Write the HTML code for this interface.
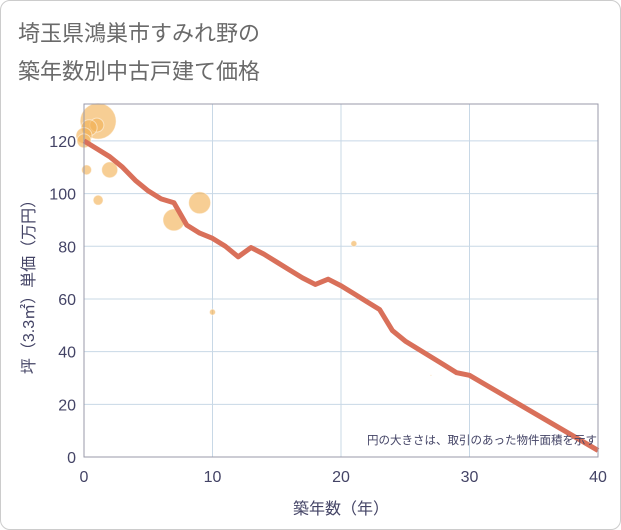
<!DOCTYPE html>
<html><head><meta charset="utf-8"><style>
body{margin:0;background:#fff;font-family:"Liberation Sans","Noto Sans CJK JP",sans-serif}
#wrap{position:relative;width:619px;height:528px;border:1px solid #ccc;border-radius:10px;overflow:hidden;background:#fff}
</style></head><body>
<div id="wrap">
<svg id="chart" width="621" height="530">
<text x="17" y="40" font-size="22" fill="#6a6a6a">埼玉県鴻巣市すみれ野の</text>
<text x="17" y="78" font-size="22" fill="#6a6a6a">築年数別中古戸建て価格</text>
<g id="grid"></g><g id="bubbles"></g><g id="line"></g><g id="axes"></g>
<text x="596" y="443" font-size="11.5" fill="#446" text-anchor="end">円の大きさは、取引のあった物件面積を示す</text>
<text x="340" y="513" font-size="16" fill="#446" text-anchor="middle">築年数（年）</text>
<text transform="translate(33,282) rotate(-90)" font-size="16" fill="#446" text-anchor="middle">坪（3.3㎡）単価（万円）</text>
</svg></div>
<script>
const xTicks=[0,10,20,30,40];
const yTicks=[0,20,40,60,80,100,120];
const lineYears=[0,1,2,3,4,5,6,7,8,9,10,11,12,13,14,15,16,17,18,19,20,21,22,23,24,25,26,27,28,29,30,40];
const linePrices=[120,117,114,110,105,101,98,96.5,88,85,83,80,76,79.5,77,74,71,68,65.5,67.5,65,62,59,56,48,44,41,38,35,32,31,2.5];
const bubbleYears=[1.1,1,0.4,0,0,0.2,2,1.1,9,7,21,10,27];
const bubblePrices=[127.5,126,125,122,120,109,109,97.5,96.5,90,81,55,31];
const bubbleSizes=[18,7,8,8,7,5,8,5,11,11,3,3,0.6];
const X0=83,X1=597,Y0=456,Y1=103,YMAX=134;
const sx=v=>X0+(v/40)*(X1-X0);
const sy=v=>Y0-(v/YMAX)*(Y0-Y1);
const NS="http://www.w3.org/2000/svg";
function mk(t,a,p){const e=document.createElementNS(NS,t);for(const k in a)e.setAttribute(k,a[k]);p.appendChild(e);return e;}
const grid=document.getElementById('grid'),axes=document.getElementById('axes');
xTicks.forEach(t=>{const l=mk('line',{x1:sx(t),x2:sx(t),y1:Y1,y2:Y0,stroke:'#c8d8e6'},grid);


const tx=mk('text',{x:sx(t),y:Y0+25,'font-size':16,fill:'#446','text-anchor':'middle'},axes);tx.textContent=t;

});
yTicks.forEach(t=>{const l=mk('line',{x1:X0,x2:X1,y1:sy(t),y2:sy(t),stroke:'#c8d8e6'},grid);


const tx=mk('text',{x:X0-8,y:sy(t)+6,'font-size':16,fill:'#446','text-anchor':'end'},axes);tx.textContent=t;

});
const fr=mk('rect',{x:X0,y:Y1,width:X1-X0,height:Y0-Y1,fill:'none',stroke:'#99a'},axes);


const bg=document.getElementById('bubbles');
bubbleYears.forEach((y,i)=>{const c=mk('circle',{cx:sx(y),cy:sy(bubblePrices[i]),r:bubbleSizes[i],fill:'#f2b45a','fill-opacity':0.65,stroke:'#fff','stroke-opacity':0.5},bg);

});
const pts=lineYears.map((y,i)=>sx(y)+','+sy(linePrices[i])).join(' ');
const pl=mk('polyline',{points:pts,fill:'none',stroke:'#d9705a','stroke-width':5,'stroke-linejoin':'round'},document.getElementById('line'));


</script></body></html>
